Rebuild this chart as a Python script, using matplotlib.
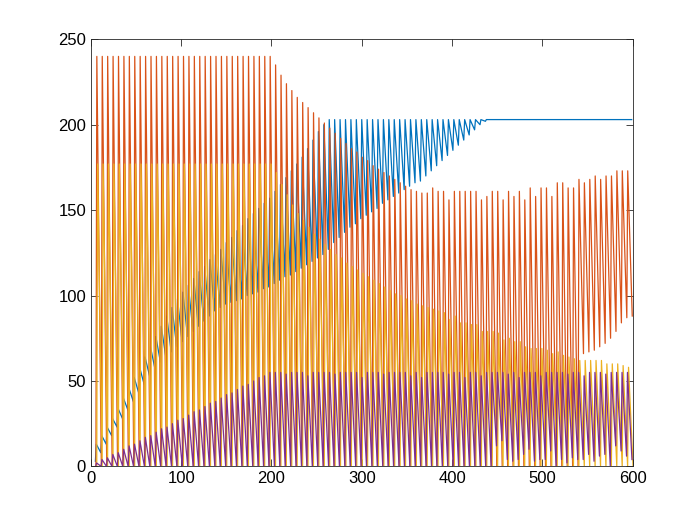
import matplotlib
matplotlib.use("Agg")
import matplotlib.pyplot as plt
import numpy as np

# cycle layout: one sawtooth tooth every 6 samples, first one near x=5
period = 6
n_cycles = 99

# --- one value per tooth ---
blue_top = ([13, 18, 23, 28, 34, 40, 46, 52, 58, 64, 70, 76, 82]
            + [88, 93, 98, 102, 106, 110, 114, 117, 121, 124, 127, 131]
            + [134, 138, 141, 145, 148, 151, 154, 157]
            + [161, 165, 169, 173, 177, 181, 186, 191, 196, 200]
            + [203] * 56)
blue_bot = ([3, 8, 13, 18, 23, 28, 33, 38, 43, 48, 53, 57, 61]
            + [64, 67, 70, 73, 76, 79, 82, 85, 88, 91, 93, 95]
            + [96, 97, 98, 100, 101, 102, 104, 105]
            + [107, 109, 111, 112, 114, 116, 118, 120, 122, 124, 127]
            + [131, 134, 137, 140, 142, 145, 147, 149, 151, 154, 156, 158, 160,
               162, 164, 166, 167, 170, 173, 176, 179, 182, 185, 188, 191, 194,
               197, 200, 202]
            + [203] * 27)

red_top = ([240] * 33
           + [235, 229, 224, 220, 216, 213, 210, 207, 204, 201, 198, 195, 192,
              189, 186, 184, 181, 179, 176, 174, 172, 170, 168, 166, 164, 162,
              161, 160, 160]
           + [163, 161, 161, 156, 161, 161, 161, 161, 161, 156, 158, 161, 161,
              156, 161, 158, 161, 156, 163, 158, 163, 163, 158, 166, 166, 163,
              163, 168, 166, 168, 170, 168, 170, 170, 173, 173, 173])
red_bot = [0] * 90 + [66, 67, 68, 70, 72, 75, 79, 84, 87, 88]

yellow_top = ([177] * 33
              + [172, 165, 159, 153, 148, 144, 140, 136, 133, 130, 127, 124, 122,
                 119, 117, 115, 113, 111, 109, 107, 105, 103, 101, 100, 98, 97,
                 95, 94, 93, 92, 91]
              + [90, 86, 88, 84, 84, 83, 83, 79, 79, 79, 78, 74, 75, 73, 73, 70,
                 69, 69, 69, 68, 66, 67, 65, 64, 63, 62, 62, 62, 62, 62, 60, 60,
                 60, 59, 58])
yellow_bot = [0] * 100

purple_top = ([2, 4, 5, 7, 8, 10, 12, 13, 15, 17, 18, 20, 22, 23, 25, 27, 28,
               30, 32, 33, 35, 37, 38, 40, 42, 43, 45, 47, 48, 50, 52, 53, 55]
              + [55, 55, 54, 55, 55, 55, 53, 55, 55, 55,
                 55, 54, 55, 55, 55, 55, 52, 55, 55, 55,
                 54, 55, 55, 55, 55, 53, 55, 52, 55, 55,
                 55, 55, 54, 55, 55, 52, 55, 55, 53, 55,
                 55, 55, 55, 54, 55, 52, 55, 55, 55, 53,
                 55, 55, 55, 55, 54, 55, 55, 53, 55, 55,
                 55, 54, 55, 55, 55, 55])
purple_bot = ([0] * 74
              + [12, 15, 4, 3, 4, 7, 10, 3, 4, 4, 9, 0, 4, 2, 5, 4, 4, 7, 3, 6,
                 7, 0, 12, 9, 6, 4])


def sawtooth(bot, top, x0):
    # quick rise (1 sample) to the top, slow fall back to the next bottom
    xb = x0 + period * np.arange(n_cycles + 1)
    xt = xb[:-1] + 1
    xs = np.empty(2 * n_cycles + 1)
    ys = np.empty(2 * n_cycles + 1)
    xs[0::2], ys[0::2] = xb, bot
    xs[1::2], ys[1::2] = xt, top
    return xs, ys


colors = ["#0072BD", "#D95319", "#EDB120", "#7E2F8E"]
series = [(blue_bot, blue_top, 5.0),
          (red_bot, red_top, 5.6),
          (yellow_bot, yellow_top, 6.5),
          (purple_bot, purple_top, 5.3)]

plt.rcParams["font.family"] = ["Liberation Sans", "DejaVu Sans"]

fig = plt.figure(figsize=(6.99, 5.24), dpi=100)
ax = fig.add_axes([0.13, 0.11, 0.775, 0.815])

for (b, t, x0), c in zip(series, colors):
    xs, ys = sawtooth(b, t, x0)
    ax.plot(xs, ys, color=c, linewidth=0.9)

ax.set_xlim(0, 600)
ax.set_ylim(0, 250)
ax.set_xticks(np.arange(0, 601, 100))
ax.set_yticks(np.arange(0, 251, 50))
ax.tick_params(direction="in", top=True, right=True, length=5,
               width=0.6, colors="#262626", labelsize=12, labelcolor="black")
for s in ax.spines.values():
    s.set_color("#262626")
    s.set_linewidth(0.6)

fig.savefig("out.png", dpi=100)
